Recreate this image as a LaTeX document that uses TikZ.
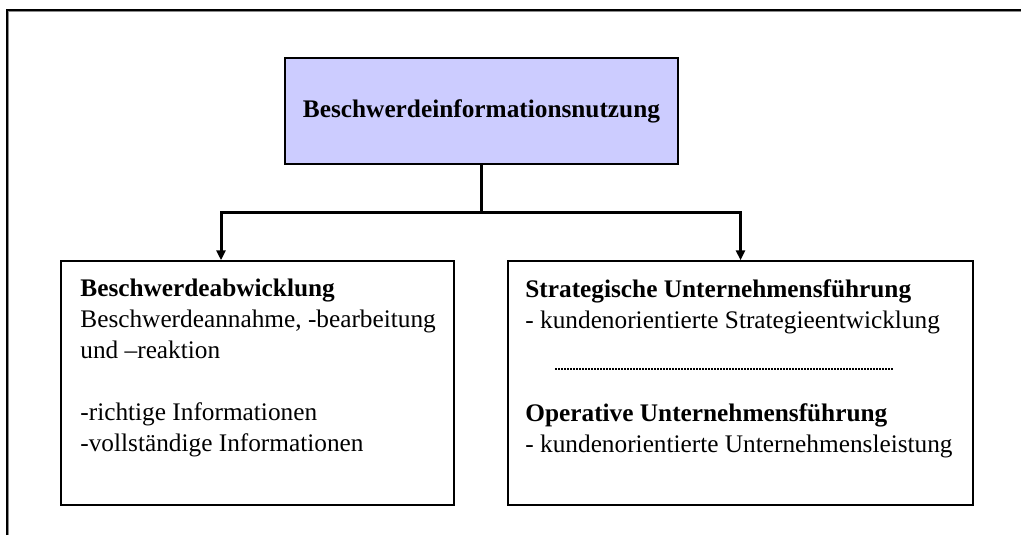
\documentclass[tikz,border=0pt]{standalone}
\usepackage{fontspec}
\setmainfont{Liberation Serif}
\usetikzlibrary{arrows.meta,shadows}
\definecolor{lavender}{RGB}{204,204,255}
\tikzset{
  box/.style={draw,line width=0.75pt,fill=white,inner sep=0pt,
    drop shadow={shadow xshift=0.7pt,shadow yshift=-0.7pt,fill=black!55,opacity=1}},
  txt/.style={align=left,anchor=north west,inner sep=0pt},
  conn/.style={line width=1.5pt},
  arr/.style={conn,-{Triangle[length=5pt,width=4.5pt]}},
  every node/.style={font=\fontsize{12.65pt}{15.5pt}\selectfont}
}
\begin{document}
\begin{tikzpicture}
\pgfsetxvec{\pgfpoint{0.5pt}{0}}
\pgfsetyvec{\pgfpoint{0}{-0.5pt}}
\useasboundingbox (0,0) rectangle (1021,535);
  % outer frame
  \draw[line width=0.75pt,black!45] (8.5,535)--(8.5,11.5)--(1021,11.5);
  \draw[line width=0.75pt] (7,535)--(7,10)--(1021,10);
  % boxes
  \node[box,fill=lavender,minimum width=196.5pt,minimum height=53pt,font=\bfseries\fontsize{12.65pt}{15.5pt}\selectfont] (use) at (481.5,111) {Beschwerdeinformationsnutzung};
  \node[box,minimum width=196.5pt,minimum height=122pt] (lbox) at (257.5,383) {};
  \node[box,minimum width=232.5pt,minimum height=122pt] (rbox) at (740.5,383) {};
  % texts
  \node[txt] (ltext) at (80,279) {\textbf{Beschwerdeabwicklung}\\Beschwerdeannahme, -bearbeitung\\und –reaktion\\[15.5pt]-richtige Informationen\\-vollständige Informationen};
  \node[txt] (rtop) at (525,279) {\textbf{Strategische Unternehmensführung}\\- kundenorientierte Strategieentwicklung};
  \node[txt] (rbot) at (525,403) {\textbf{Operative Unternehmensführung}\\- kundenorientierte Unternehmensleistung};
  \draw[line width=1pt,dash pattern=on 1pt off 0.5pt] (555,369)--(893,369);
  % connectors
  \coordinate (split) at (481.5,212);
  \coordinate (lhook) at (221,212);
  \draw[conn] (use.south)--(split);
  \draw[arr] (split)--(lhook)--(lhook |- lbox.north);
  \draw[arr] (split)-|(rbox.north);
\end{tikzpicture}
\end{document}
